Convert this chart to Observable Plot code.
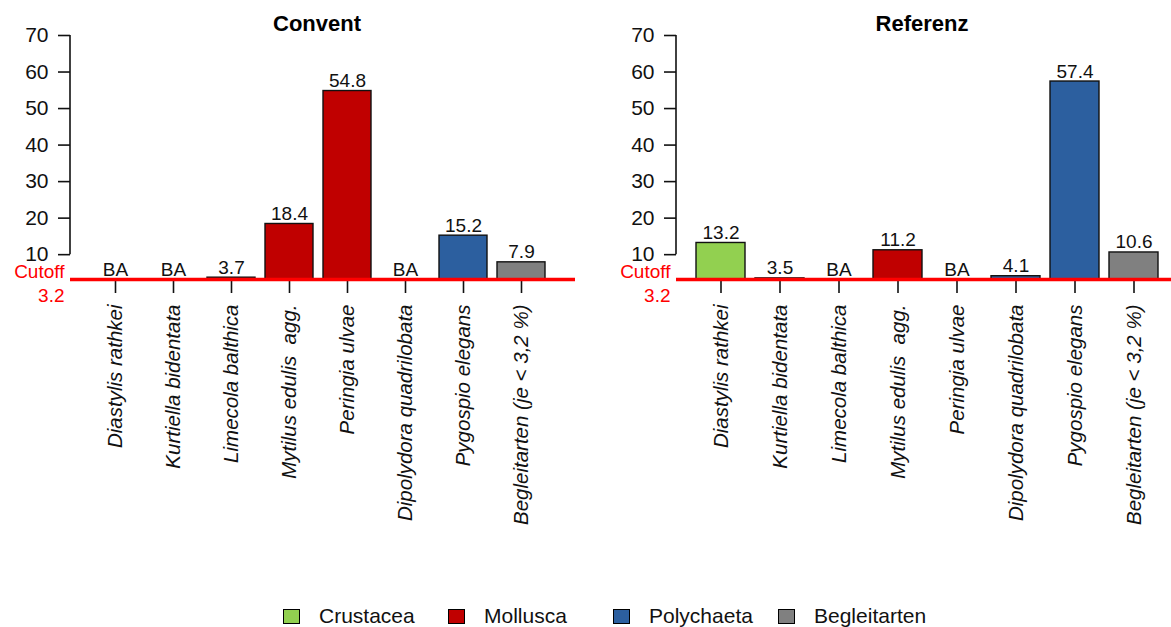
<!DOCTYPE html>
<html><head><meta charset="utf-8">
<script src="https://cdn.jsdelivr.net/npm/d3@7"></script>
<script src="https://cdn.jsdelivr.net/npm/@observablehq/plot@0.6"></script>
<style>
body{margin:0;background:#fff;font-family:"Liberation Sans",Arial,sans-serif;}
#wrap{position:relative;width:1171px;height:627px;overflow:hidden;}
#panels{display:flex;}
#legend{position:absolute;left:283px;top:606px;display:flex;}
.item{width:165px;display:flex;align-items:center;font-size:21px;color:#111;height:20px;}
.sw{width:15px;height:13px;border:1px solid #000;margin-right:19px;box-sizing:content-box;}
</style></head><body>
<div id="wrap"><div id="panels"></div><div id="legend"></div></div>
<script>
const species = ["Diastylis rathkei","Kurtiella bidentata","Limecola balthica","Mytilus edulis  agg.","Peringia ulvae","Dipolydora quadrilobata","Pygospio elegans","Begleitarten (je < 3,2 %)"];
const speciesGroup = ["Crustacea","Mollusca","Mollusca","Mollusca","Mollusca","Polychaeta","Polychaeta","Begleitarten"];
const groups = ["Crustacea","Mollusca","Polychaeta","Begleitarten"];
const groupColors = ["#92d050","#c00000","#2c5f9f","#808080"];
const panels = ["Convent","Referenz"];
const conventValues = [null,null,3.7,18.4,54.8,null,15.2,7.9];
const referenzValues = [13.2,3.5,null,11.2,null,4.1,57.4,10.6];
const yTicks = [10,20,30,40,50,60,70];
const yMax = 70;
const cutoff = 3.2;
const naLabel = "BA";

const panelValues = [conventValues, referenzValues];
const layouts = [
  {width:585, marginLeft:70, marginRight:10, insetLeft:9, insetRight:17, titleDx:-6},
  {width:586, marginLeft:91, marginRight:0, insetLeft:8, insetRight:2, titleDx:-2}
];
const cutColor = "#ff0000";
const H = 560, marginTop = 35, marginBottom = 281;

panels.forEach((name, p) => {
  const L = layouts[p];
  const rows = species.map((s, i) => ({species: s, group: speciesGroup[i], value: panelValues[p][i]}));
  const chart = Plot.plot({
    width: L.width, height: H,
    marginLeft: L.marginLeft, marginRight: L.marginRight, marginTop, marginBottom,
    style: {fontFamily: '"Liberation Sans", Arial, sans-serif', fontSize: "20px", color: "#111", background: "#fff", overflow: "visible"},
    x: {domain: species, padding: 0.17, insetLeft: L.insetLeft, insetRight: L.insetRight, label: null},
    y: {domain: [cutoff, yMax], label: null},
    color: {domain: groups, range: groupColors},
    marks: [
      Plot.axisX({tickRotate: -90, tickSize: 14, tickPadding: 11, fontStyle: "italic", fontSize: 20.5, strokeWidth: 1.6, label: null}),
      Plot.axisY({ticks: yTicks, tickSize: 12, tickPadding: 10, fontSize: 21, strokeWidth: 1.6, label: null}),
      Plot.barY(rows, {x: "species", y1: cutoff, y2: "value", fill: "group", stroke: "#111", strokeWidth: 1.4}),
      Plot.ruleY([cutoff], {stroke: cutColor, strokeWidth: 3.6}),
      Plot.text(rows, {x: "species", y: d => d.value == null ? cutoff : Math.max(d.value, cutoff),
        text: d => d.value == null ? naLabel : d.value.toFixed(1), lineAnchor: "bottom", dy: -4, fontSize: 19, fill: "#111"}),
      Plot.text([`Cutoff\n${cutoff}`], {frameAnchor: "left", y: [cutoff], text: d => d, textAnchor: "end", lineAnchor: "middle", dx: -6, dy: 3, lineHeight: 1.26, fill: cutColor, fontSize: 19}),
      Plot.text([name], {frameAnchor: "top", lineAnchor: "middle", dy: -12, dx: L.titleDx, fontWeight: "bold", fontSize: 22, fill: "#000"})
    ]
  });
  const ys = chart.scale("y");
  d3.select(chart).append("line")
    .attr("x1", L.marginLeft).attr("x2", L.marginLeft)
    .attr("y1", ys.apply(yTicks[0])).attr("y2", ys.apply(yTicks[yTicks.length - 1]))
    .attr("stroke", "#111").attr("stroke-width", 1.6);
  document.getElementById("panels").appendChild(chart);
});

const legend = d3.select("#legend");
groups.forEach((g, i) => {
  const it = legend.append("div").attr("class", "item");
  it.append("div").attr("class", "sw").style("background", groupColors[i]);
  it.append("span").text(g);
});
</script>
</body></html>
